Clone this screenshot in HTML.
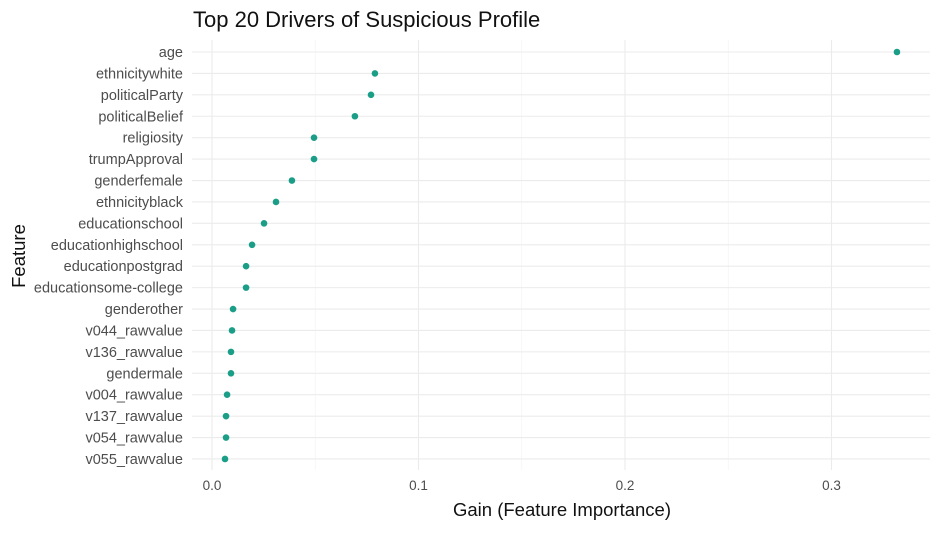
<!DOCTYPE html>
<html><head><meta charset="utf-8"><style>
body{margin:0;background:#fff;font-family:"Liberation Sans",sans-serif;}
</style></head><body>
<svg id="chart" width="940" height="528" xmlns="http://www.w3.org/2000/svg">
<text x="193" y="27" font-size="22" fill="#111">Top 20 Drivers of Suspicious Profile</text>
<g id="grid"></g>
<g id="yticks"></g>
<g id="xticks"></g>
<g id="points"></g>
<text x="562" y="516" font-size="18.5" fill="#111" text-anchor="middle">Gain (Feature Importance)</text>
<text x="0" y="0" font-size="18.5" fill="#111" text-anchor="middle" transform="translate(25,256) rotate(-90)">Feature</text>
</svg>
<script>
const features=["age","ethnicitywhite","politicalParty","politicalBelief","religiosity","trumpApproval","genderfemale","ethnicityblack","educationschool","educationhighschool","educationpostgrad","educationsome-college","genderother","v044_rawvalue","v136_rawvalue","gendermale","v004_rawvalue","v137_rawvalue","v054_rawvalue","v055_rawvalue"];
const gains=[0.3317,0.0789,0.077,0.0692,0.0494,0.0494,0.0387,0.031,0.0252,0.0194,0.0165,0.0165,0.0102,0.0097,0.0092,0.0092,0.0073,0.0068,0.0068,0.0063];
const xTicks=[0,0.1,0.2,0.3];
const xTickLabels=["0.0","0.1","0.2","0.3"];
const minorTicks=[0.05,0.15,0.25];
{
const NS="http://www.w3.org/2000/svg";
const xs=v=>212+v*2065;
const ys=i=>52+i*21.42;
const plotTop=40,plotBottom=470,plotLeft=192,plotRight=930;
function mk(tag,attrs,parent){const e=document.createElementNS(NS,tag);for(const k in attrs)e.setAttribute(k,attrs[k]);document.getElementById(parent).appendChild(e);return e;}
minorTicks.forEach(v=>{const l=mk('line',{x1:xs(v),x2:xs(v),y1:plotTop,y2:plotBottom,stroke:'#f2f2f2','stroke-width':0.6},'grid');

});
xTicks.forEach((v,i)=>{const l=mk('line',{x1:xs(v),x2:xs(v),y1:plotTop,y2:plotBottom,stroke:'#ebebeb','stroke-width':1.1},'grid');


const t=mk('text',{x:xs(v),y:490,'font-size':13.5,fill:'#4d4d4d','text-anchor':'middle'},'xticks');
t.textContent=xTickLabels[i];

});
features.forEach((f,i)=>{const l=mk('line',{x1:plotLeft,x2:plotRight,y1:ys(i),y2:ys(i),stroke:'#ebebeb','stroke-width':1.1},'grid');


const t=mk('text',{x:183,y:ys(i)+5,'font-size':14.5,fill:'#4d4d4d','text-anchor':'end'},'yticks');
t.textContent=f;


const c=mk('circle',{cx:xs(gains[i]),cy:ys(i),r:3.3,fill:'#1b9e87'},'points');

});
}
</script>
</body></html>
